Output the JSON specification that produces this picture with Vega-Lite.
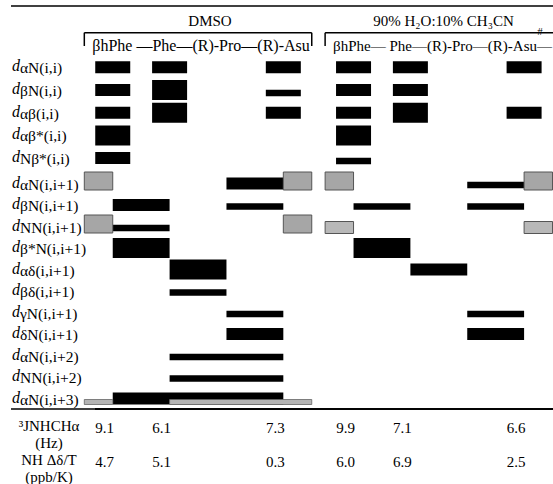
{
  "$schema": "https://vega.github.io/schema/vega-lite/v6.json",
  "padding": {"left": 10, "top": 0, "right": 0, "bottom": 0},
  "autosize": {"type": "pad"},
  "spacing": 0,
  "bounds": "flush",
  "config": {
    "view": {"stroke": null},
    "font": "Liberation Serif",
    "text": {"font": "Liberation Serif", "color": "black"},
    "rule": {"color": "black"}
  },
  "datasets": {
    "rows": [
      {"row": "dαN(i,i)", "kind": "intra", "sub": "αN(i,i)"},
      {"row": "dβN(i,i)", "kind": "intra", "sub": "βN(i,i)"},
      {"row": "dαβ(i,i)", "kind": "intra", "sub": "αβ(i,i)"},
      {"row": "dαβ*(i,i)", "kind": "intra", "sub": "αβ*(i,i)"},
      {"row": "dNβ*(i,i)", "kind": "intra", "sub": "Nβ*(i,i)"},
      {"row": "dαN(i,i+1)", "kind": "inter", "sub": "αN(i,i+1)"},
      {"row": "dβN(i,i+1)", "kind": "inter", "sub": "βN(i,i+1)"},
      {"row": "dNN(i,i+1)", "kind": "inter", "sub": "NN(i,i+1)"},
      {"row": "dβ*N(i,i+1)", "kind": "inter", "sub": "β*N(i,i+1)"},
      {"row": "dαδ(i,i+1)", "kind": "inter", "sub": "αδ(i,i+1)"},
      {"row": "dβδ(i,i+1)", "kind": "inter", "sub": "βδ(i,i+1)"},
      {"row": "dγN(i,i+1)", "kind": "inter", "sub": "γN(i,i+1)"},
      {"row": "dδN(i,i+1)", "kind": "inter", "sub": "δN(i,i+1)"},
      {"row": "dαN(i,i+2)", "kind": "inter", "sub": "αN(i,i+2)"},
      {"row": "dNN(i,i+2)", "kind": "inter", "sub": "NN(i,i+2)"},
      {"row": "dαN(i,i+3)", "kind": "inter", "sub": "αN(i,i+3)"}
    ],
    "noe": [
      {"solvent": "DMSO", "row": "dαN(i,i)", "kind": "intra", "res": 1, "noe": 2, "overlap": false},
      {"solvent": "DMSO", "row": "dαN(i,i)", "kind": "intra", "res": 2, "noe": 2, "overlap": false},
      {"solvent": "DMSO", "row": "dαN(i,i)", "kind": "intra", "res": 4, "noe": 2, "overlap": false},
      {"solvent": "DMSO", "row": "dβN(i,i)", "kind": "intra", "res": 1, "noe": 2, "overlap": false},
      {"solvent": "DMSO", "row": "dβN(i,i)", "kind": "intra", "res": 2, "noe": 3, "overlap": false},
      {"solvent": "DMSO", "row": "dβN(i,i)", "kind": "intra", "res": 4, "noe": 1, "overlap": false},
      {"solvent": "DMSO", "row": "dαβ(i,i)", "kind": "intra", "res": 1, "noe": 2, "overlap": false},
      {"solvent": "DMSO", "row": "dαβ(i,i)", "kind": "intra", "res": 2, "noe": 3, "overlap": false},
      {"solvent": "DMSO", "row": "dαβ(i,i)", "kind": "intra", "res": 4, "noe": 2, "overlap": false},
      {"solvent": "DMSO", "row": "dαβ*(i,i)", "kind": "intra", "res": 1, "noe": 3, "overlap": false},
      {"solvent": "DMSO", "row": "dNβ*(i,i)", "kind": "intra", "res": 1, "noe": 2, "overlap": false},
      {"solvent": "DMSO", "row": "dαN(i,i+1)", "kind": "inter", "from": 0.5, "to": 1, "noe": 3, "overlap": true},
      {"solvent": "DMSO", "row": "dαN(i,i+1)", "kind": "inter", "from": 3, "to": 4, "noe": 2, "overlap": false},
      {"solvent": "DMSO", "row": "dαN(i,i+1)", "kind": "inter", "from": 4, "to": 4.5, "noe": 3, "overlap": true},
      {"solvent": "DMSO", "row": "dβN(i,i+1)", "kind": "inter", "from": 1, "to": 2, "noe": 2, "overlap": false},
      {"solvent": "DMSO", "row": "dβN(i,i+1)", "kind": "inter", "from": 3, "to": 4, "noe": 1, "overlap": false},
      {"solvent": "DMSO", "row": "dNN(i,i+1)", "kind": "inter", "from": 0.5, "to": 1, "noe": 3, "overlap": true},
      {"solvent": "DMSO", "row": "dNN(i,i+1)", "kind": "inter", "from": 1, "to": 2, "noe": 1, "overlap": false},
      {"solvent": "DMSO", "row": "dNN(i,i+1)", "kind": "inter", "from": 4, "to": 4.5, "noe": 3, "overlap": true},
      {"solvent": "DMSO", "row": "dβ*N(i,i+1)", "kind": "inter", "from": 1, "to": 2, "noe": 3, "overlap": false},
      {"solvent": "DMSO", "row": "dαδ(i,i+1)", "kind": "inter", "from": 2, "to": 3, "noe": 3, "overlap": false},
      {"solvent": "DMSO", "row": "dβδ(i,i+1)", "kind": "inter", "from": 2, "to": 3, "noe": 1, "overlap": false},
      {"solvent": "DMSO", "row": "dγN(i,i+1)", "kind": "inter", "from": 3, "to": 4, "noe": 1, "overlap": false},
      {"solvent": "DMSO", "row": "dδN(i,i+1)", "kind": "inter", "from": 3, "to": 4, "noe": 2, "overlap": false},
      {"solvent": "DMSO", "row": "dαN(i,i+2)", "kind": "inter", "from": 2, "to": 4, "noe": 1, "overlap": false},
      {"solvent": "DMSO", "row": "dNN(i,i+2)", "kind": "inter", "from": 2, "to": 4, "noe": 1, "overlap": false},
      {"solvent": "DMSO", "row": "dαN(i,i+3)", "kind": "inter", "from": 1, "to": 4, "noe": 2, "overlap": false},
      {"solvent": "DMSO", "row": "dαN(i,i+3)", "kind": "inter", "from": 0.5, "to": 1, "noe": 1, "overlap": true},
      {"solvent": "DMSO", "row": "dαN(i,i+3)", "kind": "inter", "from": 2, "to": 4.5, "noe": 1, "overlap": true},
      {"solvent": "H2O", "row": "dαN(i,i)", "kind": "intra", "res": 1, "noe": 2, "overlap": false},
      {"solvent": "H2O", "row": "dαN(i,i)", "kind": "intra", "res": 2, "noe": 2, "overlap": false},
      {"solvent": "H2O", "row": "dαN(i,i)", "kind": "intra", "res": 4, "noe": 2, "overlap": false},
      {"solvent": "H2O", "row": "dβN(i,i)", "kind": "intra", "res": 1, "noe": 2, "overlap": false},
      {"solvent": "H2O", "row": "dβN(i,i)", "kind": "intra", "res": 2, "noe": 2, "overlap": false},
      {"solvent": "H2O", "row": "dαβ(i,i)", "kind": "intra", "res": 1, "noe": 2, "overlap": false},
      {"solvent": "H2O", "row": "dαβ(i,i)", "kind": "intra", "res": 2, "noe": 3, "overlap": false},
      {"solvent": "H2O", "row": "dαβ(i,i)", "kind": "intra", "res": 4, "noe": 2, "overlap": false},
      {"solvent": "H2O", "row": "dαβ*(i,i)", "kind": "intra", "res": 1, "noe": 3, "overlap": false},
      {"solvent": "H2O", "row": "dNβ*(i,i)", "kind": "intra", "res": 1, "noe": 1, "overlap": false},
      {"solvent": "H2O", "row": "dαN(i,i+1)", "kind": "inter", "from": 0.5, "to": 1, "noe": 3, "overlap": true},
      {"solvent": "H2O", "row": "dαN(i,i+1)", "kind": "inter", "from": 3, "to": 4, "noe": 1, "overlap": false},
      {"solvent": "H2O", "row": "dαN(i,i+1)", "kind": "inter", "from": 4, "to": 4.5, "noe": 3, "overlap": true},
      {"solvent": "H2O", "row": "dβN(i,i+1)", "kind": "inter", "from": 1, "to": 2, "noe": 1, "overlap": false},
      {"solvent": "H2O", "row": "dβN(i,i+1)", "kind": "inter", "from": 3, "to": 4, "noe": 1, "overlap": false},
      {"solvent": "H2O", "row": "dNN(i,i+1)", "kind": "inter", "from": 0.5, "to": 1, "noe": 2, "overlap": true},
      {"solvent": "H2O", "row": "dNN(i,i+1)", "kind": "inter", "from": 4, "to": 4.5, "noe": 2, "overlap": true},
      {"solvent": "H2O", "row": "dβ*N(i,i+1)", "kind": "inter", "from": 1, "to": 2, "noe": 3, "overlap": false},
      {"solvent": "H2O", "row": "dαδ(i,i+1)", "kind": "inter", "from": 2, "to": 3, "noe": 2, "overlap": false},
      {"solvent": "H2O", "row": "dγN(i,i+1)", "kind": "inter", "from": 3, "to": 4, "noe": 1, "overlap": false},
      {"solvent": "H2O", "row": "dδN(i,i+1)", "kind": "inter", "from": 3, "to": 4, "noe": 2, "overlap": false}
    ],
    "headers": [
      {"solvent": "DMSO", "title": "DMSO", "sequence": "βhPhe —Phe—(R)-Pro—(R)-Asu", "from": 0.5, "to": 4.5},
      {"solvent": "H2O", "title": "90% H₂O:10% CH₃CN", "sequence": "βhPhe— Phe—(R)-Pro—(R)-Asu—", "from": 0.5, "to": 4.6}
    ],
    "bracketEnds": [
      {"solvent": "DMSO", "at": 0.5},
      {"solvent": "DMSO", "at": 4.5},
      {"solvent": "H2O", "at": 0.5}
    ],
    "footer": [
      {"solvent": "DMSO", "res": 1, "J": 9.1, "dT": 4.7},
      {"solvent": "DMSO", "res": 2, "J": 6.1, "dT": 5.1},
      {"solvent": "DMSO", "res": 4, "J": 7.3, "dT": 0.3},
      {"solvent": "H2O", "res": 1, "J": 9.9, "dT": 6.0},
      {"solvent": "H2O", "res": 2, "J": 7.1, "dT": 6.9},
      {"solvent": "H2O", "res": 4, "J": 6.6, "dT": 2.5}
    ],
    "footLabels": [
      {"frow": "J", "text": "³JNHCHα"},
      {"frow": "Hz", "text": "(Hz)"},
      {"frow": "dT", "text": "NH Δδ/T"},
      {"frow": "ppb", "text": "(ppb/K)"}
    ],
    "one": [{"k": 1}]
  },
  "hconcat": [
    {
      "width": 84,
      "height": 484,
      "layer": [
        {
          "data": {"name": "rows"},
          "transform": [{"filter": "datum.kind == 'intra'"}],
          "layer": [
            {
              "mark": {"type": "text", "align": "left", "baseline": "middle", "fontStyle": "italic", "fontSize": 16, "dx": -41, "dy": -1},
              "encoding": {
                "y": {"field": "row", "type": "nominal", "scale": {"type": "band", "domain": ["dαN(i,i)","dβN(i,i)","dαβ(i,i)","dαβ*(i,i)","dNβ*(i,i)"], "range": [56.0, 169.4], "paddingInner": 0, "paddingOuter": 0}, "axis": null},
                "text": {"value": "d"}
              }
            },
            {
              "mark": {"type": "text", "align": "left", "baseline": "middle", "fontSize": 15.5, "dx": -33, "dy": 1},
              "encoding": {
                "y": {"field": "row", "type": "nominal", "scale": {"type": "band", "domain": ["dαN(i,i)","dβN(i,i)","dαβ(i,i)","dαβ*(i,i)","dNβ*(i,i)"], "range": [56.0, 169.4], "paddingInner": 0, "paddingOuter": 0}, "axis": null},
                "text": {"field": "sub"}
              }
            }
          ]
        },
        {
          "data": {"name": "rows"},
          "transform": [{"filter": "datum.kind == 'inter'"}],
          "layer": [
            {
              "mark": {"type": "text", "align": "left", "baseline": "middle", "fontStyle": "italic", "fontSize": 16, "dx": -41, "dy": -1},
              "encoding": {
                "y": {"field": "row", "type": "nominal", "scale": {"type": "band", "domain": ["dαN(i,i+1)","dβN(i,i+1)","dNN(i,i+1)","dβ*N(i,i+1)","dαδ(i,i+1)","dβδ(i,i+1)","dγN(i,i+1)","dδN(i,i+1)","dαN(i,i+2)","dNN(i,i+2)","dαN(i,i+3)"], "range": [172.75, 409.25], "paddingInner": 0, "paddingOuter": 0}, "axis": null},
                "text": {"value": "d"}
              }
            },
            {
              "mark": {"type": "text", "align": "left", "baseline": "middle", "fontSize": 15.5, "dx": -33, "dy": 1},
              "encoding": {
                "y": {"field": "row", "type": "nominal", "scale": {"type": "band", "domain": ["dαN(i,i+1)","dβN(i,i+1)","dNN(i,i+1)","dβ*N(i,i+1)","dαδ(i,i+1)","dβδ(i,i+1)","dγN(i,i+1)","dδN(i,i+1)","dαN(i,i+2)","dNN(i,i+2)","dαN(i,i+3)"], "range": [172.75, 409.25], "paddingInner": 0, "paddingOuter": 0}, "axis": null},
                "text": {"field": "sub"}
              }
            }
          ]
        },
        {
          "data": {"name": "one"},
          "mark": {"type": "rule", "strokeWidth": 1.5},
          "encoding": {"y": {"datum": "rule", "type": "nominal", "scale": {"type": "point", "domain": ["rule","solvent","bracket","sequence"], "range": [6, 46], "padding": 0}, "axis": null}}
        },
        {
          "data": {"name": "footLabels"},
          "mark": {"type": "text", "baseline": "middle", "fontSize": 15, "dx": -4},
          "encoding": {
            "y": {"field": "frow", "type": "nominal", "scale": {"type": "point", "domain": ["rule","J","Hz","dT","ppb"], "range": [409, 477], "padding": 0}, "axis": null},
            "text": {"field": "text"}
          }
        },
        {
          "data": {"name": "one"},
          "mark": {"type": "rule", "strokeWidth": 1.5},
          "encoding": {"y": {"datum": "rule", "type": "nominal", "scale": {"type": "point", "domain": ["rule","J","Hz","dT","ppb"], "range": [409, 477], "padding": 0}, "axis": null}}
        }
      ],
      "resolve": {"scale": {"y": "independent"}}
    },
    {
      "width": 230,
      "height": 484,
      "layer": [
        {
          "data": {"name": "noe"},
          "transform": [{"filter": "datum.solvent == 'DMSO' && datum.kind == 'intra'"}],
          "layer": [
            {
              "transform": [{"filter": "datum.noe > 1"}],
              "mark": {"type": "tick", "thickness": 35, "color": "black", "opacity": 1},
              "encoding": {
                "x": {"field": "res", "type": "quantitative", "scale": {"type": "linear", "domain": [0.688, 4.733], "nice": false, "zero": false}, "axis": null},
                "y": {"field": "row", "type": "nominal", "scale": {"type": "band", "domain": ["dαN(i,i)","dβN(i,i)","dαβ(i,i)","dαβ*(i,i)","dNβ*(i,i)"], "range": [56.0, 169.4], "paddingInner": 0, "paddingOuter": 0}, "axis": null},
                "size": {"field": "noe", "type": "quantitative", "scale": {"type": "threshold", "domain": [1.5, 2.5], "range": [6.5, 12, 20]}, "legend": null}
              }
            },
            {
              "transform": [{"filter": "datum.noe == 1"}],
              "mark": {"type": "tick", "thickness": 35, "size": 6.5, "yOffset": 3, "color": "black", "opacity": 1},
              "encoding": {
                "x": {"field": "res", "type": "quantitative", "scale": {"type": "linear", "domain": [0.688, 4.733], "nice": false, "zero": false}, "axis": null},
                "y": {"field": "row", "type": "nominal", "scale": {"type": "band", "domain": ["dαN(i,i)","dβN(i,i)","dαβ(i,i)","dαβ*(i,i)","dNβ*(i,i)"], "range": [56.0, 169.4], "paddingInner": 0, "paddingOuter": 0}, "axis": null}
              }
            }
          ]
        },
        {
          "data": {"name": "noe"},
          "transform": [{"filter": "datum.solvent == 'DMSO' && datum.kind == 'inter'"}],
          "layer": [
            {
              "transform": [{"filter": "!datum.overlap && datum.noe > 1"}],
              "mark": {"type": "bar", "color": "black", "opacity": 1},
              "encoding": {
                "x": {"field": "from", "type": "quantitative", "scale": {"type": "linear", "domain": [0.688, 4.733], "nice": false, "zero": false}, "axis": null},
                "x2": {"field": "to"},
                "y": {"field": "row", "type": "nominal", "scale": {"type": "band", "domain": ["dαN(i,i+1)","dβN(i,i+1)","dNN(i,i+1)","dβ*N(i,i+1)","dαδ(i,i+1)","dβδ(i,i+1)","dγN(i,i+1)","dδN(i,i+1)","dαN(i,i+2)","dNN(i,i+2)","dαN(i,i+3)"], "range": [172.75, 409.25], "paddingInner": 0, "paddingOuter": 0}, "axis": null},
                "size": {"field": "noe", "type": "quantitative", "scale": {"type": "threshold", "domain": [1.5, 2.5], "range": [6.5, 12, 20]}, "legend": null}
              }
            },
            {
              "transform": [{"filter": "!datum.overlap && datum.noe == 1"}],
              "mark": {"type": "bar", "color": "black", "opacity": 1, "height": 6.5, "yOffset": 1.5},
              "encoding": {
                "x": {"field": "from", "type": "quantitative", "scale": {"type": "linear", "domain": [0.688, 4.733], "nice": false, "zero": false}, "axis": null},
                "x2": {"field": "to"},
                "y": {"field": "row", "type": "nominal", "scale": {"type": "band", "domain": ["dαN(i,i+1)","dβN(i,i+1)","dNN(i,i+1)","dβ*N(i,i+1)","dαδ(i,i+1)","dβδ(i,i+1)","dγN(i,i+1)","dδN(i,i+1)","dαN(i,i+2)","dNN(i,i+2)","dαN(i,i+3)"], "range": [172.75, 409.25], "paddingInner": 0, "paddingOuter": 0}, "axis": null}
              }
            },
            {
              "transform": [{"filter": "datum.overlap && datum.noe == 3"}],
              "mark": {"type": "bar", "fill": "#a6a6a6", "stroke": "#555555", "strokeWidth": 1, "opacity": 1, "height": 18, "yOffset": -2.5},
              "encoding": {
                "x": {"field": "from", "type": "quantitative", "scale": {"type": "linear", "domain": [0.688, 4.733], "nice": false, "zero": false}, "axis": null},
                "x2": {"field": "to"},
                "y": {"field": "row", "type": "nominal", "scale": {"type": "band", "domain": ["dαN(i,i+1)","dβN(i,i+1)","dNN(i,i+1)","dβ*N(i,i+1)","dαδ(i,i+1)","dβδ(i,i+1)","dγN(i,i+1)","dδN(i,i+1)","dαN(i,i+2)","dNN(i,i+2)","dαN(i,i+3)"], "range": [172.75, 409.25], "paddingInner": 0, "paddingOuter": 0}, "axis": null}
              }
            },
            {
              "transform": [{"filter": "datum.overlap && datum.noe == 1"}],
              "mark": {"type": "bar", "fill": "#b4b4b4", "stroke": "#666666", "strokeWidth": 0.8, "opacity": 1, "height": 5, "yOffset": 3.5},
              "encoding": {
                "x": {"field": "from", "type": "quantitative", "scale": {"type": "linear", "domain": [0.688, 4.733], "nice": false, "zero": false}, "axis": null},
                "x2": {"field": "to"},
                "y": {"field": "row", "type": "nominal", "scale": {"type": "band", "domain": ["dαN(i,i+1)","dβN(i,i+1)","dNN(i,i+1)","dβ*N(i,i+1)","dαδ(i,i+1)","dβδ(i,i+1)","dγN(i,i+1)","dδN(i,i+1)","dαN(i,i+2)","dNN(i,i+2)","dαN(i,i+3)"], "range": [172.75, 409.25], "paddingInner": 0, "paddingOuter": 0}, "axis": null}
              }
            }
          ]
        },
        {
          "data": {"name": "headers"},
          "transform": [{"filter": "datum.solvent == 'DMSO'"}],
          "layer": [
            {
              "mark": {"type": "text", "baseline": "middle", "fontSize": 15, "dy": 2},
              "encoding": {
                "y": {"datum": "solvent", "type": "nominal", "scale": {"type": "point", "domain": ["rule","solvent","bracket","sequence"], "range": [6, 46], "padding": 0}, "axis": null},
                "text": {"field": "title"}
              }
            },
            {
              "mark": {"type": "text", "align": "left", "baseline": "middle", "fontSize": 16, "dx": 8},
              "encoding": {
                "x": {"field": "from", "type": "quantitative", "scale": {"type": "linear", "domain": [0.688, 4.733], "nice": false, "zero": false}, "axis": null},
                "y": {"datum": "sequence", "type": "nominal", "scale": {"type": "point", "domain": ["rule","solvent","bracket","sequence"], "range": [6, 46], "padding": 0}, "axis": null},
                "text": {"field": "sequence"}
              }
            },
            {
              "mark": {"type": "rule", "strokeWidth": 1.5},
              "encoding": {
                "y": {"datum": "rule", "type": "nominal", "scale": {"type": "point", "domain": ["rule","solvent","bracket","sequence"], "range": [6, 46], "padding": 0}, "axis": null}
              }
            },
            {
              "mark": {"type": "rule", "strokeWidth": 1.5},
              "encoding": {
                "x": {"field": "from", "type": "quantitative", "scale": {"type": "linear", "domain": [0.688, 4.733], "nice": false, "zero": false}, "axis": null},
                "x2": {"field": "to"},
                "y": {"datum": "bracket", "type": "nominal", "scale": {"type": "point", "domain": ["rule","solvent","bracket","sequence"], "range": [6, 46], "padding": 0}, "axis": null}
              }
            }
          ]
        },
        {
          "data": {"name": "bracketEnds"},
          "transform": [{"filter": "datum.solvent == 'DMSO'"}],
          "mark": {"type": "rule", "strokeWidth": 1.5},
          "encoding": {
            "x": {"field": "at", "type": "quantitative", "scale": {"type": "linear", "domain": [0.688, 4.733], "nice": false, "zero": false}, "axis": null},
            "y": {"datum": "bracket", "type": "nominal", "scale": {"type": "point", "domain": ["rule","solvent","bracket","sequence"], "range": [6, 46], "padding": 0}, "axis": null},
            "y2": {"datum": "sequence"}
          }
        },
        {
          "data": {"name": "footer"},
          "transform": [{"filter": "datum.solvent == 'DMSO'"}],
          "layer": [
            {
              "mark": {"type": "text", "baseline": "middle", "fontSize": 15, "dx": -8, "dy": 1.5},
              "encoding": {
                "x": {"field": "res", "type": "quantitative", "scale": {"type": "linear", "domain": [0.688, 4.733], "nice": false, "zero": false}, "axis": null},
                "y": {"datum": "J", "type": "nominal", "scale": {"type": "point", "domain": ["rule","J","Hz","dT","ppb"], "range": [409, 477], "padding": 0}, "axis": null},
                "text": {"field": "J", "type": "quantitative", "format": ".1f"}
              }
            },
            {
              "mark": {"type": "text", "baseline": "middle", "fontSize": 15, "dx": -8, "dy": 1.5},
              "encoding": {
                "x": {"field": "res", "type": "quantitative", "scale": {"type": "linear", "domain": [0.688, 4.733], "nice": false, "zero": false}, "axis": null},
                "y": {"datum": "dT", "type": "nominal", "scale": {"type": "point", "domain": ["rule","J","Hz","dT","ppb"], "range": [409, 477], "padding": 0}, "axis": null},
                "text": {"field": "dT", "type": "quantitative", "format": ".1f"}
              }
            },
            {
              "mark": {"type": "rule", "strokeWidth": 1.5},
              "encoding": {
                "y": {"datum": "rule", "type": "nominal", "scale": {"type": "point", "domain": ["rule","J","Hz","dT","ppb"], "range": [409, 477], "padding": 0}, "axis": null}
              }
            }
          ]
        }
      ],
      "resolve": {"scale": {"y": "independent"}}
    },
    {
      "width": 229,
      "height": 484,
      "layer": [
        {
          "data": {"name": "noe"},
          "transform": [{"filter": "datum.solvent == 'H2O' && datum.kind == 'intra'"}],
          "layer": [
            {
              "transform": [{"filter": "datum.noe > 1"}],
              "mark": {"type": "tick", "thickness": 35, "color": "black", "opacity": 1},
              "encoding": {
                "x": {"field": "res", "type": "quantitative", "scale": {"type": "linear", "domain": [0.498, 4.526], "nice": false, "zero": false}, "axis": null},
                "y": {"field": "row", "type": "nominal", "scale": {"type": "band", "domain": ["dαN(i,i)","dβN(i,i)","dαβ(i,i)","dαβ*(i,i)","dNβ*(i,i)"], "range": [56.0, 169.4], "paddingInner": 0, "paddingOuter": 0}, "axis": null},
                "size": {"field": "noe", "type": "quantitative", "scale": {"type": "threshold", "domain": [1.5, 2.5], "range": [6.5, 12, 20]}, "legend": null}
              }
            },
            {
              "transform": [{"filter": "datum.noe == 1"}],
              "mark": {"type": "tick", "thickness": 35, "size": 6.5, "yOffset": 3, "color": "black", "opacity": 1},
              "encoding": {
                "x": {"field": "res", "type": "quantitative", "scale": {"type": "linear", "domain": [0.498, 4.526], "nice": false, "zero": false}, "axis": null},
                "y": {"field": "row", "type": "nominal", "scale": {"type": "band", "domain": ["dαN(i,i)","dβN(i,i)","dαβ(i,i)","dαβ*(i,i)","dNβ*(i,i)"], "range": [56.0, 169.4], "paddingInner": 0, "paddingOuter": 0}, "axis": null}
              }
            }
          ]
        },
        {
          "data": {"name": "noe"},
          "transform": [{"filter": "datum.solvent == 'H2O' && datum.kind == 'inter'"}],
          "layer": [
            {
              "transform": [{"filter": "!datum.overlap && datum.noe > 1"}],
              "mark": {"type": "bar", "color": "black", "opacity": 1},
              "encoding": {
                "x": {"field": "from", "type": "quantitative", "scale": {"type": "linear", "domain": [0.498, 4.526], "nice": false, "zero": false}, "axis": null},
                "x2": {"field": "to"},
                "y": {"field": "row", "type": "nominal", "scale": {"type": "band", "domain": ["dαN(i,i+1)","dβN(i,i+1)","dNN(i,i+1)","dβ*N(i,i+1)","dαδ(i,i+1)","dβδ(i,i+1)","dγN(i,i+1)","dδN(i,i+1)","dαN(i,i+2)","dNN(i,i+2)","dαN(i,i+3)"], "range": [172.75, 409.25], "paddingInner": 0, "paddingOuter": 0}, "axis": null},
                "size": {"field": "noe", "type": "quantitative", "scale": {"type": "threshold", "domain": [1.5, 2.5], "range": [6.5, 12, 20]}, "legend": null}
              }
            },
            {
              "transform": [{"filter": "!datum.overlap && datum.noe == 1"}],
              "mark": {"type": "bar", "color": "black", "opacity": 1, "height": 6.5, "yOffset": 1.5},
              "encoding": {
                "x": {"field": "from", "type": "quantitative", "scale": {"type": "linear", "domain": [0.498, 4.526], "nice": false, "zero": false}, "axis": null},
                "x2": {"field": "to"},
                "y": {"field": "row", "type": "nominal", "scale": {"type": "band", "domain": ["dαN(i,i+1)","dβN(i,i+1)","dNN(i,i+1)","dβ*N(i,i+1)","dαδ(i,i+1)","dβδ(i,i+1)","dγN(i,i+1)","dδN(i,i+1)","dαN(i,i+2)","dNN(i,i+2)","dαN(i,i+3)"], "range": [172.75, 409.25], "paddingInner": 0, "paddingOuter": 0}, "axis": null}
              }
            },
            {
              "transform": [{"filter": "datum.overlap && datum.noe == 3"}],
              "mark": {"type": "bar", "fill": "#a6a6a6", "stroke": "#555555", "strokeWidth": 1, "opacity": 1, "height": 18, "yOffset": -2.5},
              "encoding": {
                "x": {"field": "from", "type": "quantitative", "scale": {"type": "linear", "domain": [0.498, 4.526], "nice": false, "zero": false}, "axis": null},
                "x2": {"field": "to"},
                "y": {"field": "row", "type": "nominal", "scale": {"type": "band", "domain": ["dαN(i,i+1)","dβN(i,i+1)","dNN(i,i+1)","dβ*N(i,i+1)","dαδ(i,i+1)","dβδ(i,i+1)","dγN(i,i+1)","dδN(i,i+1)","dαN(i,i+2)","dNN(i,i+2)","dαN(i,i+3)"], "range": [172.75, 409.25], "paddingInner": 0, "paddingOuter": 0}, "axis": null}
              }
            },
            {
              "transform": [{"filter": "datum.overlap && datum.noe == 2"}],
              "mark": {"type": "bar", "fill": "#b8b8b8", "stroke": "#555555", "strokeWidth": 1, "opacity": 1, "height": 12, "yOffset": 1},
              "encoding": {
                "x": {"field": "from", "type": "quantitative", "scale": {"type": "linear", "domain": [0.498, 4.526], "nice": false, "zero": false}, "axis": null},
                "x2": {"field": "to"},
                "y": {"field": "row", "type": "nominal", "scale": {"type": "band", "domain": ["dαN(i,i+1)","dβN(i,i+1)","dNN(i,i+1)","dβ*N(i,i+1)","dαδ(i,i+1)","dβδ(i,i+1)","dγN(i,i+1)","dδN(i,i+1)","dαN(i,i+2)","dNN(i,i+2)","dαN(i,i+3)"], "range": [172.75, 409.25], "paddingInner": 0, "paddingOuter": 0}, "axis": null}
              }
            }
          ]
        },
        {
          "data": {"name": "headers"},
          "transform": [{"filter": "datum.solvent == 'H2O'"}],
          "layer": [
            {
              "mark": {"type": "text", "baseline": "middle", "fontSize": 15, "dy": 2, "dx": 4},
              "encoding": {
                "y": {"datum": "solvent", "type": "nominal", "scale": {"type": "point", "domain": ["rule","solvent","bracket","sequence"], "range": [6, 46], "padding": 0}, "axis": null},
                "text": {"field": "title"}
              }
            },
            {
              "mark": {"type": "text", "align": "left", "baseline": "middle", "fontSize": 15, "dx": 8},
              "encoding": {
                "x": {"field": "from", "type": "quantitative", "scale": {"type": "linear", "domain": [0.498, 4.526], "nice": false, "zero": false}, "axis": null},
                "y": {"datum": "sequence", "type": "nominal", "scale": {"type": "point", "domain": ["rule","solvent","bracket","sequence"], "range": [6, 46], "padding": 0}, "axis": null},
                "text": {"field": "sequence"}
              }
            },
            {
              "mark": {"type": "text", "baseline": "middle", "fontSize": 11, "dy": -1},
              "encoding": {
                "x": {"datum": 4.28, "type": "quantitative", "scale": {"type": "linear", "domain": [0.498, 4.526], "nice": false, "zero": false}, "axis": null},
                "y": {"datum": "bracket", "type": "nominal", "scale": {"type": "point", "domain": ["rule","solvent","bracket","sequence"], "range": [6, 46], "padding": 0}, "axis": null},
                "text": {"value": "#"}
              }
            },
            {
              "mark": {"type": "rule", "strokeWidth": 1.5},
              "encoding": {
                "y": {"datum": "rule", "type": "nominal", "scale": {"type": "point", "domain": ["rule","solvent","bracket","sequence"], "range": [6, 46], "padding": 0}, "axis": null}
              }
            },
            {
              "mark": {"type": "rule", "strokeWidth": 1.5, "clip": true},
              "encoding": {
                "x": {"field": "from", "type": "quantitative", "scale": {"type": "linear", "domain": [0.498, 4.526], "nice": false, "zero": false}, "axis": null},
                "x2": {"field": "to"},
                "y": {"datum": "bracket", "type": "nominal", "scale": {"type": "point", "domain": ["rule","solvent","bracket","sequence"], "range": [6, 46], "padding": 0}, "axis": null}
              }
            }
          ]
        },
        {
          "data": {"name": "bracketEnds"},
          "transform": [{"filter": "datum.solvent == 'H2O'"}],
          "mark": {"type": "rule", "strokeWidth": 1.5},
          "encoding": {
            "x": {"field": "at", "type": "quantitative", "scale": {"type": "linear", "domain": [0.498, 4.526], "nice": false, "zero": false}, "axis": null},
            "y": {"datum": "bracket", "type": "nominal", "scale": {"type": "point", "domain": ["rule","solvent","bracket","sequence"], "range": [6, 46], "padding": 0}, "axis": null},
            "y2": {"datum": "sequence"}
          }
        },
        {
          "data": {"name": "footer"},
          "transform": [{"filter": "datum.solvent == 'H2O'"}],
          "layer": [
            {
              "mark": {"type": "text", "baseline": "middle", "fontSize": 15, "dx": -8, "dy": 1.5},
              "encoding": {
                "x": {"field": "res", "type": "quantitative", "scale": {"type": "linear", "domain": [0.498, 4.526], "nice": false, "zero": false}, "axis": null},
                "y": {"datum": "J", "type": "nominal", "scale": {"type": "point", "domain": ["rule","J","Hz","dT","ppb"], "range": [409, 477], "padding": 0}, "axis": null},
                "text": {"field": "J", "type": "quantitative", "format": ".1f"}
              }
            },
            {
              "mark": {"type": "text", "baseline": "middle", "fontSize": 15, "dx": -8, "dy": 1.5},
              "encoding": {
                "x": {"field": "res", "type": "quantitative", "scale": {"type": "linear", "domain": [0.498, 4.526], "nice": false, "zero": false}, "axis": null},
                "y": {"datum": "dT", "type": "nominal", "scale": {"type": "point", "domain": ["rule","J","Hz","dT","ppb"], "range": [409, 477], "padding": 0}, "axis": null},
                "text": {"field": "dT", "type": "quantitative", "format": ".1f"}
              }
            },
            {
              "mark": {"type": "rule", "strokeWidth": 1.5},
              "encoding": {
                "y": {"datum": "rule", "type": "nominal", "scale": {"type": "point", "domain": ["rule","J","Hz","dT","ppb"], "range": [409, 477], "padding": 0}, "axis": null}
              }
            }
          ]
        }
      ],
      "resolve": {"scale": {"y": "independent"}}
    }
  ]
}
